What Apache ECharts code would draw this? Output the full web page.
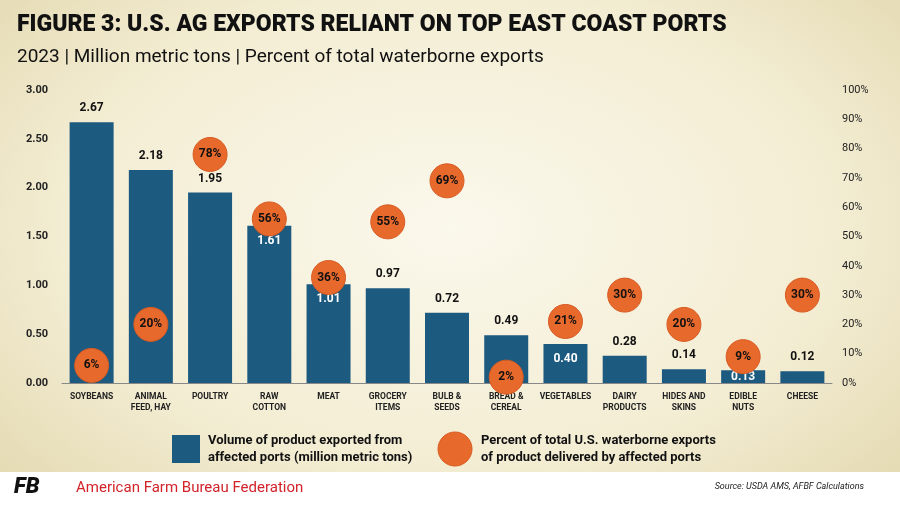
<!DOCTYPE html>
<html><head><meta charset="utf-8">
<script src="https://cdn.jsdelivr.net/npm/echarts@6/dist/echarts.min.js"></script>
<style>
html,body{margin:0;padding:0;}
#c{width:900px;height:506px;background:radial-gradient(ellipse at 50% 45%,#fbf8ec 0%,#f3edd3 60%,#e2d7ae 100%);}
</style></head><body>
<div id="c"></div>
<script>
const categories = ['SOYBEANS','ANIMAL\nFEED, HAY','POULTRY','RAW\nCOTTON','MEAT','GROCERY\nITEMS','BULB &\nSEEDS','BREAD &\nCEREAL','VEGETABLES','DAIRY\nPRODUCTS','HIDES AND\nSKINS','EDIBLE\nNUTS','CHEESE'];
const volume = [2.67, 2.18, 1.95, 1.61, 1.01, 0.97, 0.72, 0.49, 0.40, 0.28, 0.14, 0.13, 0.12];
const percent = [6, 20, 78, 56, 36, 55, 69, 2, 21, 30, 20, 9, 30];
const insideLabels = [3, 4, 8, 11];

const chart = echarts.init(document.getElementById('c'));
const font = 'Roboto, "Liberation Sans", sans-serif';

chart.setOption({
  textStyle: {fontFamily: font},
  title: [
    {text: 'FIGURE 3: U.S. AG EXPORTS RELIANT ON TOP EAST COAST PORTS', left: 12, top: 9,
     textStyle: {fontSize: 23, fontWeight: 900, color: '#111', fontFamily: font}},
    {text: '2023 | Million metric tons | Percent of total waterborne exports', left: 12, top: 43,
     textStyle: {fontSize: 19, fontWeight: 'normal', color: '#111', fontFamily: font}}
  ],
  grid: {left: 62, right: 68, top: 90, bottom: 123},
  xAxis: {
    type: 'category', data: categories,
    axisLine: {lineStyle: {color: '#888'}}, axisTick: {show: false},
    axisLabel: {interval: 0, fontSize: 8.5, fontWeight: 'bold', color: '#222', lineHeight: 11, margin: 8}
  },
  yAxis: [
    {type: 'value', min: 0, max: 3, interval: 0.5, splitLine: {show: false},
     axisLabel: {formatter: v => v.toFixed(2), fontSize: 11, fontWeight: 'bold', color: '#222', margin: 14}},
    {type: 'value', min: 0, max: 100, interval: 10, splitLine: {show: false},
     axisLabel: {formatter: '{value}%', fontSize: 11, color: '#222', margin: 10}}
  ],
  series: [
    {type: 'bar', barWidth: 44, yAxisIndex: 0,
     itemStyle: {color: '#1c5a80'},
     data: volume.map((v, i) => ({
       value: v,
       label: insideLabels.includes(i)
         ? {show: true, position: v < 0.2 ? 'inside' : 'insideTop', color: '#fff', distance: 9}
         : {show: true, position: 'top', color: '#111', distance: 8}
     })),
     label: {formatter: p => p.value.toFixed(2), fontSize: 12, fontWeight: 'bold'}},
    {type: 'scatter', yAxisIndex: 1, symbolSize: 34, z: 5,
     itemStyle: {color: '#e8692c', opacity: 1, borderColor: '#d65a22', borderWidth: 1},
     label: {show: true, position: 'inside', formatter: '{c}%', fontSize: 12, fontWeight: 'bold', color: '#111'},
     emphasis: {disabled: true},
     data: percent}
  ],
  graphic: [
    {type: 'rect', shape: {x: 172, y: 435, width: 28, height: 28}, style: {fill: '#1c5a80'}},
    {type: 'text', left: 208, top: 432, style: {text: 'Volume of product exported from\naffected ports (million metric tons)', fontSize: 13, fontWeight: 'bold', lineHeight: 17, fill: '#111', fontFamily: font}},
    {type: 'circle', shape: {cx: 455, cy: 449, r: 17}, style: {fill: '#e8692c', stroke: '#d65a22', lineWidth: 1}},
    {type: 'text', left: 481, top: 432, style: {text: 'Percent of total U.S. waterborne exports\nof product delivered by affected ports', fontSize: 13, fontWeight: 'bold', lineHeight: 17, fill: '#111', fontFamily: font}},
    {type: 'rect', shape: {x: 0, y: 472, width: 900, height: 34}, style: {fill: '#ffffff'}},
    {type: 'text', left: 14, top: 476, style: {text: 'FB', fontSize: 22, fontWeight: 900, fontStyle: 'italic', fill: '#111', fontFamily: font}},
    {type: 'text', left: 76, top: 481, style: {text: 'American Farm Bureau Federation', fontSize: 15, fill: '#d2232a', fontFamily: font}},
    {type: 'text', right: 36, top: 482, style: {text: 'Source: USDA AMS, AFBF Calculations', fontSize: 9, fontStyle: 'italic', fill: '#222', fontFamily: font}}
  ]
});
</script>
</body></html>
